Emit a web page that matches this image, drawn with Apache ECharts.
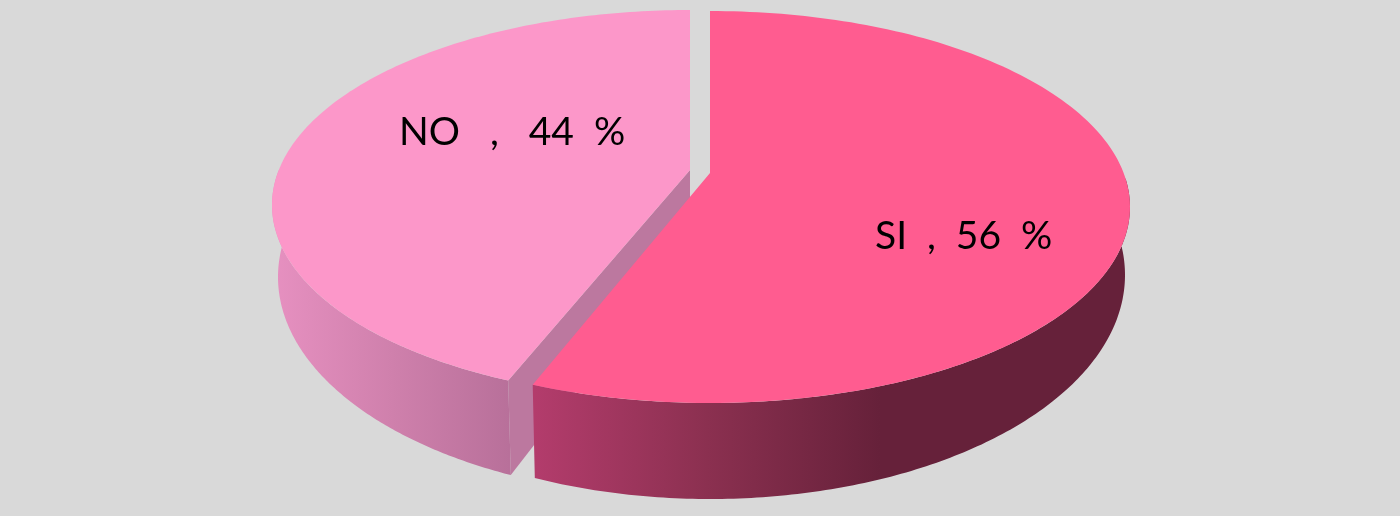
<!DOCTYPE html>
<html>
<head>
<meta charset="utf-8">
<style>html,body{margin:0;padding:0;background:#d9d9d9}#c{width:1400px;height:516px}</style>
<script src="https://cdn.jsdelivr.net/npm/echarts@6/dist/echarts.min.js"></script>
</head>
<body>
<div id="c"></div>
<script>
var categories = ['NO', 'SI'];
var percents = [44, 56];
var labels = ['NO   ,   44  %', 'SI  ,  56  %'];

var total = percents[0] + percents[1];
var looks = [
  { cx: 690, cy: 205, a: 418, b: 195, e: 0.18, apexY: 170,
    lcy: 277, la: 412, lb: 220, lapexY: 244,
    top: '#fc97c9', face: '#bc789f', tx: 399, ty: 132,
    wall: [{ offset: 0, color: '#e690c0' }, { offset: 0.5, color: '#cf80ac' }, { offset: 1, color: '#b8709a' }], gx: [275, 510] },
  { cx: 710, cy: 207, a: 420, b: 196, e: 0.148, apexY: 173,
    lcy: 275, la: 415, lb: 224, lapexY: 242,
    top: '#ff5c90', face: '#66213a', tx: 875, ty: 236,
    wall: [{ offset: 0, color: '#b33c6c' }, { offset: 0.5, color: '#8b3050' }, { offset: 1, color: '#66213a' }], gx: [535, 880] }
];

function rim(g, cy, a, b, deg) {
  var t = deg * Math.PI / 180, u = Math.sin(t), v = -Math.cos(t), e = -g.e;
  var d = 1 + e * v;
  return [g.cx + a * u * Math.sqrt(1 - e * e) / d, cy + b * (v + e) / d];
}
function arc(g, cy, a, b, from, to) {
  var pts = [], n = 160;
  for (var i = 0; i <= n; i++) pts.push(rim(g, cy, a, b, from + (to - from) * i / n));
  return pts;
}

var chart = echarts.init(document.getElementById('c'), null, { renderer: 'canvas' });
chart.setOption({
  backgroundColor: '#d9d9d9',
  animation: false,
  series: [{
    type: 'custom',
    coordinateSystem: 'none',
    silent: true,
    clip: false,
    data: categories.map(function (c, i) { return { name: c, value: percents[i] }; }),
    renderItem: function (params, api) {
      var i = params.dataIndex, g = looks[i];
      // angles run clockwise from 12 o'clock; SI starts there and NO ends there
      var start = i === 0 ? 360 - api.value(0) / total * 360 : 0;
      var end = i === 0 ? 360 : api.value(0) / total * 360;
      var from = Math.max(start, 90), to = Math.min(end, 270);
      var wallPts = arc(g, g.cy, g.a, g.b, from, to)
        .concat(arc(g, g.lcy, g.la, g.lb, from, to).reverse());
      var topPts = [[g.cx, g.apexY]].concat(arc(g, g.cy, g.a, g.b, start, end));
      var children = [];
      if (i === 0) {
        children.push({
          type: 'polygon',
          shape: { points: [[g.cx, g.apexY], rim(g, g.cy, g.a, g.b, start), rim(g, g.lcy, g.la, g.lb, start), [g.cx, g.lapexY]] },
          style: { fill: g.face }
        });
      }
      children.push({
        type: 'polygon',
        shape: { points: wallPts },
        style: { fill: new echarts.graphic.LinearGradient(g.gx[0], 0, g.gx[1], 0, g.wall, true) }
      });
      children.push({ type: 'polygon', shape: { points: topPts }, style: { fill: g.top } });
      children.push({
        type: 'text',
        x: g.tx, y: g.ty,
        style: {
          text: labels[i], fill: '#000',
          font: '39px Lato, "Open Sans", sans-serif',
          textAlign: 'left', textVerticalAlign: 'middle'
        }
      });
      return { type: 'group', children: children };
    }
  }]
});
</script>
</body>
</html>
